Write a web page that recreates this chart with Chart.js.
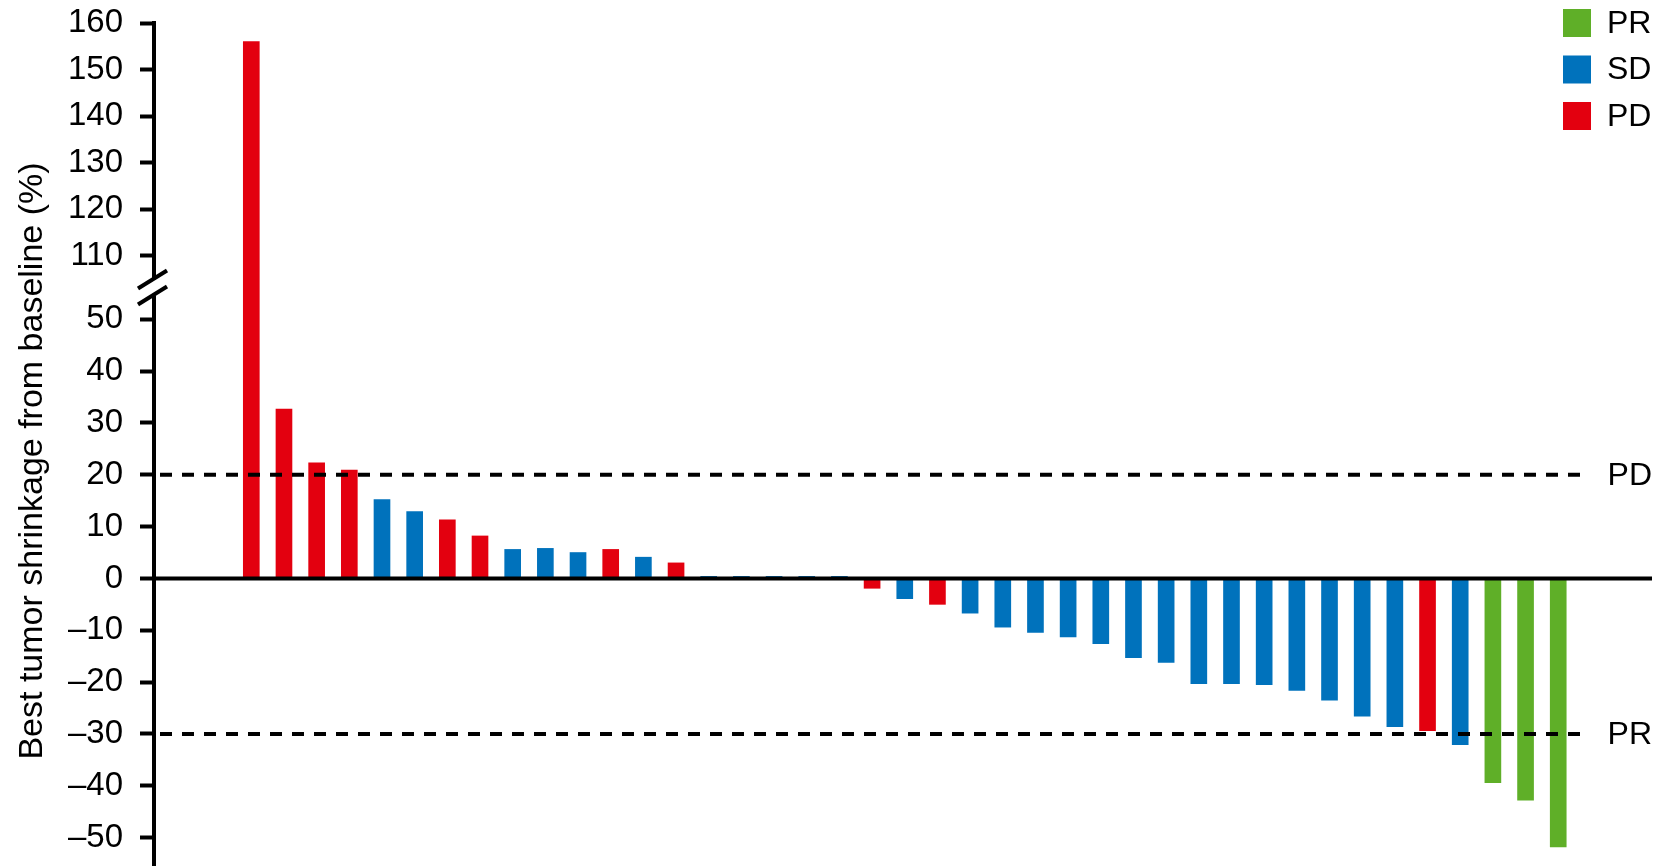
<!DOCTYPE html>
<html>
<head>
<meta charset="utf-8">
<script src="https://cdn.jsdelivr.net/npm/chart.js@4/dist/chart.umd.min.js"></script>
<style>
  html, body { margin: 0; padding: 0; background: #fff; }
  #wrap { position: relative; width: 1664px; height: 866px; }
</style>
</head>
<body>
<div id="wrap"><canvas id="chart"></canvas></div>
<script>
// Best tumor shrinkage per patient (%), in plot order
const shrinkage = [
  156, 32.7, 22.3, 20.9, 15.2, 12.9, 11.3, 8.2, 5.6, 5.8,
  5.0, 5.6, 4.1, 3.0, 0.4, 0.4, 0.4, 0.4, 0.4, -1.9,
  -3.9, -5.0, -6.7, -9.4, -10.4, -11.3, -12.6, -15.3, -16.2, -20.3,
  -20.3, -20.5, -21.6, -23.5, -26.6, -28.6, -29.4, -32.1, -39.4, -42.8,
  -51.8
];
const response = [
  'PD', 'PD', 'PD', 'PD', 'SD', 'SD', 'PD', 'PD', 'SD', 'SD',
  'SD', 'PD', 'SD', 'PD', 'SD', 'SD', 'SD', 'SD', 'SD', 'PD',
  'SD', 'PD', 'SD', 'SD', 'SD', 'SD', 'SD', 'SD', 'SD', 'SD',
  'SD', 'SD', 'SD', 'SD', 'SD', 'SD', 'PD', 'SD', 'PR', 'PR',
  'PR'
];
const categories = ['PR', 'SD', 'PD'];
const categoryColors = { PR: '#5FAF28', SD: '#0072BC', PD: '#E3000F' };

const yTicks = [-50, -40, -30, -20, -10, 0, 10, 20, 30, 40, 50, 110, 120, 130, 140, 150, 160];
const refLines = [20, -30];
const refLabels = ['PD', 'PR'];
const axisTitle = 'Best tumor shrinkage from baseline (%)';

// broken axis: lower part is linear, upper part (110-160) is squeezed in above 50
const UPPER_BASE = 62.3;
const UPPER_SCALE = 0.898;
function toAxis(v) {
  return v <= 80 ? v : UPPER_BASE + (v - 110) * UPPER_SCALE;
}
function fromAxis(t) {
  return t <= 56 ? t : 110 + (t - UPPER_BASE) / UPPER_SCALE;
}

const FONT = '"Liberation Sans", Arial, Helvetica, sans-serif';

const datasets = categories.map(cat => ({
  label: cat,
  data: shrinkage
    .map((v, i) => ({ x: i + 1, y: toAxis(v), cat: response[i] }))
    .filter(p => p.cat === cat),
  backgroundColor: categoryColors[cat],
  borderWidth: 0,
  barThickness: 16,
  grouped: false
}));

const overlay = {
  id: 'overlay',
  afterDraw(chart) {
    const { ctx, chartArea, scales } = chart;
    const y = scales.y;
    ctx.save();

    // zero line
    const y0 = y.getPixelForValue(0);
    ctx.strokeStyle = '#000';
    ctx.lineWidth = 4;
    ctx.beginPath();
    ctx.moveTo(chartArea.left, y0);
    ctx.lineTo(chartArea.right, y0);
    ctx.stroke();

    // threshold lines
    ctx.font = '32px ' + FONT;
    ctx.fillStyle = '#000';
    ctx.textAlign = 'right';
    ctx.textBaseline = 'middle';
    refLines.forEach((v, i) => {
      const py = y.getPixelForValue(toAxis(v));
      ctx.setLineDash([12, 10]);
      ctx.beginPath();
      ctx.moveTo(chartArea.left + 6, py);
      ctx.lineTo(chartArea.right - 62, py);
      ctx.stroke();
      ctx.setLineDash([]);
      ctx.fillText(refLabels[i], chartArea.right, py + 1);
    });

    // axis break
    const yTop = y.getPixelForValue(toAxis(110));
    const yBot = y.getPixelForValue(50);
    const mid = (yTop + yBot) / 2;
    const ax = chartArea.left;
    ctx.fillStyle = '#fff';
    ctx.fillRect(ax - 4, mid - 8, 8, 16);
    ctx.lineWidth = 4;
    [-8, 8].forEach(d => {
      ctx.beginPath();
      ctx.moveTo(ax - 16, mid + d + 9);
      ctx.lineTo(ax + 13, mid + d - 9);
      ctx.stroke();
    });

    // legend
    ctx.textAlign = 'left';
    ctx.textBaseline = 'middle';
    chart.data.datasets.forEach((ds, i) => {
      const cy = 23 + i * 46.5;
      ctx.fillStyle = ds.backgroundColor;
      ctx.fillRect(1563, cy - 14, 28, 28);
      ctx.fillStyle = '#000';
      ctx.fillText(ds.label, 1607, cy + 1);
    });

    // y axis title
    ctx.save();
    ctx.translate(33, 461);
    ctx.rotate(-Math.PI / 2);
    ctx.textAlign = 'center';
    ctx.font = '34px ' + FONT;
    ctx.fillText(axisTitle, 0, 0);
    ctx.restore();

    ctx.restore();
  }
};

new Chart(document.getElementById('chart'), {
  type: 'bar',
  data: { datasets },
  options: {
    responsive: true,
    maintainAspectRatio: false,
    animation: false,
    layout: { padding: { top: 23, right: 12, bottom: 0, left: 0 } },
    plugins: {
      legend: { display: false },
      tooltip: { enabled: false }
    },
    scales: {
      x: {
        type: 'linear',
        offset: false,
        min: -1.978,
        max: 43.87,
        display: false
      },
      y: {
        min: -55.5,
        max: 107.2,
        afterBuildTicks: scale => {
          scale.ticks = yTicks.map(v => ({ value: toAxis(v) }));
        },
        afterFit: scale => {
          scale.width = 154;
          scale.paddingTop = 0;
          scale.paddingBottom = 0;
        },
        ticks: {
          color: '#000',
          font: { size: 33, family: FONT },
          padding: 17,
          callback: value => {
            const v = Math.round(fromAxis(value));
            return v < 0 ? '\u2013' + Math.abs(v) : String(v);
          }
        },
        grid: {
          drawOnChartArea: false,
          drawTicks: true,
          tickLength: 14,
          tickWidth: 4,
          tickColor: '#000'
        },
        border: { display: true, color: '#000', width: 4 }
      }
    }
  },
  plugins: [overlay]
});
</script>
</body>
</html>
